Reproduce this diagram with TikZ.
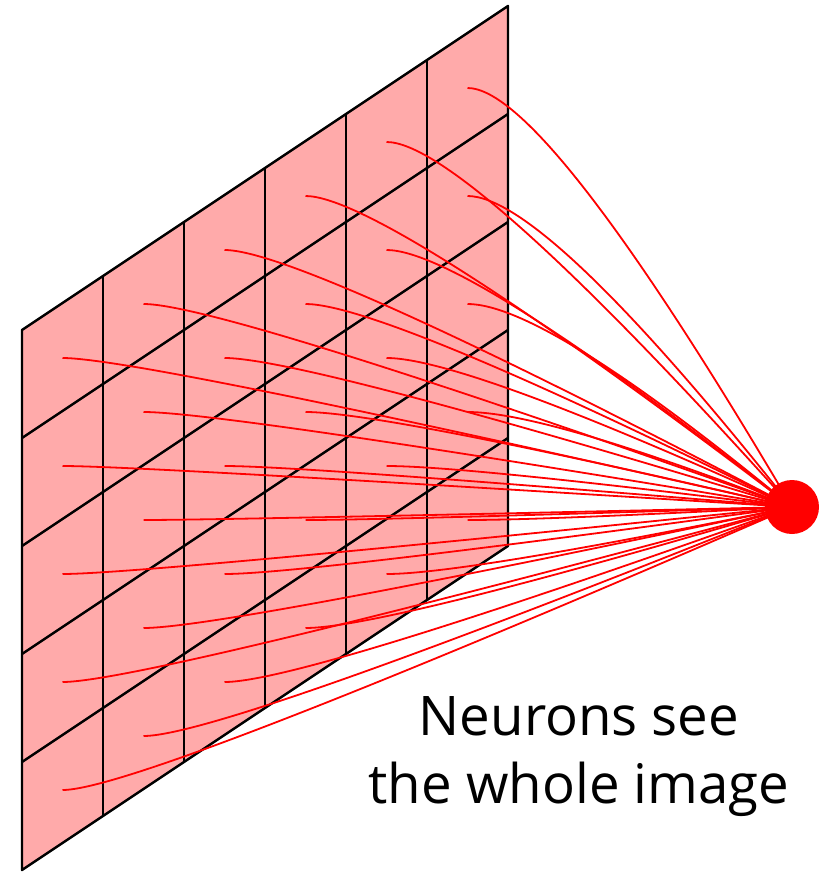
\documentclass[tikz,border=0pt]{standalone}
\usepackage{fontspec}
\setmainfont{Open Sans}
\usepackage{xcolor}
\usetikzlibrary{calc}

\definecolor{cellred}{HTML}{FFAAAA}

\begin{document}
\begin{tikzpicture}[x=0.5pt, y=-0.5pt,
        grid line/.style={black, line width=1.2pt, line join=round},
        link/.style={red, line width=0.9pt},
        neuron/.style={circle, fill=red, inner sep=0pt, minimum size=27pt}]
        \useasboundingbox (0,0) rectangle (827,872);

        % the image plane
        \coordinate (tl) at (22,330);
        \coordinate (tr) at (508,6);
        \coordinate (br) at (508,546);
        \coordinate (bl) at (22,870);
        \fill[cellred] (tl) -- (tr) -- (br) -- (bl) -- cycle;
        \foreach \i in {1,...,5}
            \draw[grid line] ($(tl)!\i/6!(tr)$) -- ($(bl)!\i/6!(br)$);
        \foreach \j in {1,...,4}
            \draw[grid line] ($(tl)!\j/5!(bl)$) -- ($(tr)!\j/5!(br)$);
        \draw[grid line] (tl) -- (tr) -- (br) -- (bl) -- cycle;

        % every pixel goes to the one neuron
        \coordinate (nc) at (792,507);
        \foreach \i in {0,...,5}
            \foreach \j in {0,...,4} {
                \coordinate (c-\i-\j) at ({62.5+81*\i},{358-54*\i+108*\j});
                \coordinate (k-\i-\j) at ($(c-\i-\j)+(78,0)$);
                \draw[link] (c-\i-\j) .. controls +(52,0) and ($(nc)!2/3!(k-\i-\j)$) .. (nc);
            }
        \node[neuron] (neuron) at (nc) {};

        \node[align=center, anchor=base, font=\fontsize{27.3}{34}\selectfont] (caption) at (579,803)
            {Neurons see\\the whole image};
    \end{tikzpicture}
\end{document}
